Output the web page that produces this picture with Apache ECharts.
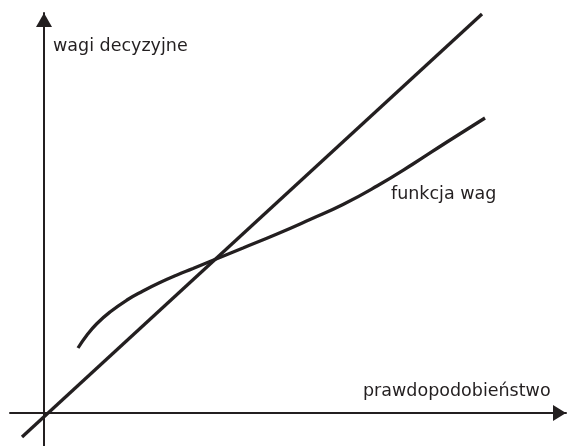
<!DOCTYPE html>
<html><head><meta charset="utf-8">
<script src="https://cdn.jsdelivr.net/npm/echarts@6/dist/echarts.min.js"></script>
<style>html,body{margin:0;padding:0;background:#fff}#c{width:567px;height:446px}</style>
</head><body><div id="c"></div>
<script>
// Values (units: arbitrary, origin at axes crossing)
const diagonalX = [-22, 438];
const diagonalY = [-24, 399];
const curveX = [34, 43, 53, 66, 83, 99, 116, 133, 149, 166, 199, 233, 266, 299, 333, 369, 403, 441];
const curveY = [65, 78, 89.5, 101, 113, 122, 130.5, 138, 144.5, 151.5, 165, 179, 193.5, 208.5, 227, 249, 271, 295];
const xAxisLabel = 'prawdopodobieństwo';
const yAxisLabel = 'wagi decyzyjne';
const curveLabel = 'funkcja wag';

const ink = '#231f20';
const font = '"DejaVu Sans", sans-serif';
const chart = echarts.init(document.getElementById('c'));
chart.setOption({
  animation: false,
  grid: {left: 10, right: 1, top: 13, bottom: 0},
  xAxis: {
    type: 'value', min: -34, max: 522,
    axisLine: {show: true, onZero: true, symbol: ['none', 'triangle'], symbolSize: [16, 13],
      symbolOffset: [0, -6.5], lineStyle: {color: ink, width: 2}},
    axisTick: {show: false}, axisLabel: {show: false}, splitLine: {show: false}
  },
  yAxis: {
    type: 'value', min: -33, max: 400,
    axisLine: {show: true, onZero: true, symbol: ['none', 'triangle'], symbolSize: [16, 14],
      symbolOffset: [0, -7], lineStyle: {color: ink, width: 2}},
    axisTick: {show: false}, axisLabel: {show: false}, splitLine: {show: false}
  },
  series: [
    {type: 'line', data: diagonalX.map((x, i) => [x, diagonalY[i]]), showSymbol: false,
      lineStyle: {color: ink, width: 3.3}},
    {type: 'line', smooth: 0.5, data: curveX.map((x, i) => [x, curveY[i]]), showSymbol: false,
      lineStyle: {color: ink, width: 3.3}}
  ],
  graphic: [
    {type: 'text', left: 53, top: 37, style: {text: yAxisLabel, font: '17.5px ' + font, fill: ink}},
    {type: 'text', left: 363, top: 382, style: {text: xAxisLabel, font: '17.5px ' + font, fill: ink}},
    {type: 'text', left: 391, top: 185, style: {text: curveLabel, font: '17.5px ' + font, fill: ink}}
  ]
});
</script></body></html>
